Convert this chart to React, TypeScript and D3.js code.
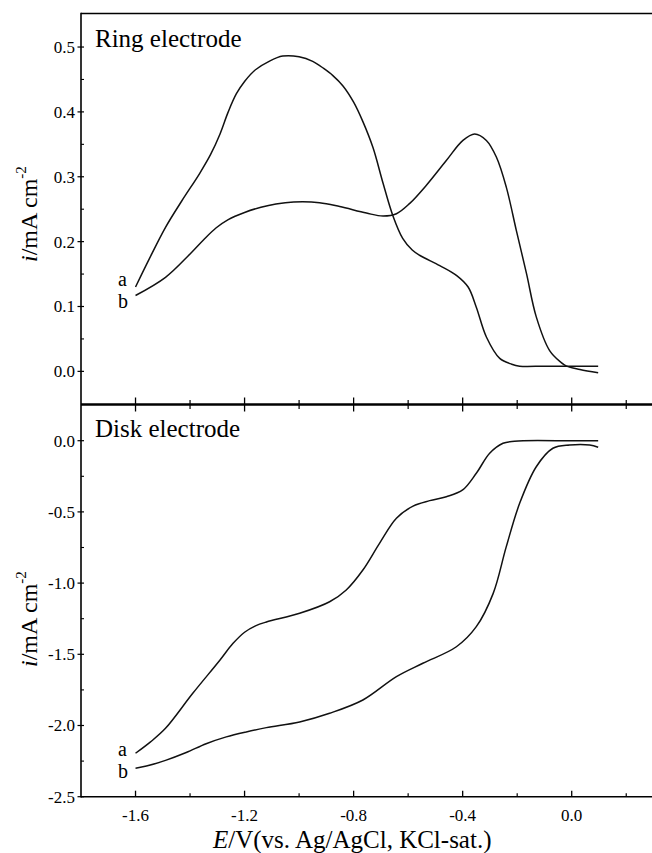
import React, { useEffect, useRef } from 'react';
import * as d3 from 'd3';

// Ring electrode, curve a
const ringPotA = [-1.6, -1.55, -1.49, -1.43, -1.365, -1.325, -1.29, -1.26, -1.23, -1.2, -1.16, -1.11, -1.06, -1.0, -0.95, -0.91, -0.876, -0.839, -0.8, -0.766, -0.729, -0.692, -0.656, -0.62, -0.585, -0.558, -0.484, -0.423, -0.38, -0.35, -0.313, -0.264, -0.22, -0.191, -0.1, 0.0, 0.097];
const ringCurA = [0.13, 0.173, 0.222, 0.263, 0.305, 0.334, 0.366, 0.4, 0.428, 0.447, 0.465, 0.478, 0.486, 0.485, 0.478, 0.467, 0.456, 0.44, 0.415, 0.385, 0.345, 0.29, 0.24, 0.205, 0.187, 0.179, 0.163, 0.148, 0.13, 0.099, 0.053, 0.02, 0.011, 0.008, 0.008, 0.008, 0.008];

// Ring electrode, curve b
const ringPotB = [-1.6, -1.49, -1.4, -1.35, -1.305, -1.26, -1.2, -1.14, -1.085, -1.02, -0.925, -0.851, -0.753, -0.692, -0.643, -0.594, -0.533, -0.46, -0.399, -0.356, -0.313, -0.276, -0.24, -0.203, -0.166, -0.13, -0.081, -0.04, -0.019, 0.03, 0.097];
const ringCurB = [0.117, 0.145, 0.181, 0.203, 0.221, 0.234, 0.245, 0.253, 0.258, 0.261, 0.26, 0.254, 0.244, 0.2395, 0.243, 0.259, 0.287, 0.325, 0.356, 0.366, 0.356, 0.33, 0.284, 0.217, 0.151, 0.084, 0.032, 0.014, 0.008, 0.003, -0.002];

// Disk electrode, curve a
const diskPotA = [-1.6, -1.545, -1.49, -1.39, -1.29, -1.243, -1.2, -1.16, -1.12, -0.998, -0.888, -0.827, -0.766, -0.705, -0.643, -0.582, -0.521, -0.46, -0.4, -0.35, -0.301, -0.252, -0.21, -0.178, 0.0, 0.097];
const diskCurA = [-2.195, -2.115, -2.02, -1.774, -1.54, -1.425, -1.345, -1.3, -1.273, -1.212, -1.131, -1.048, -0.908, -0.721, -0.545, -0.459, -0.421, -0.393, -0.346, -0.229, -0.088, -0.018, -0.004, 0.0, 0.0, 0.0];

// Disk electrode, curve b
const diskPotB = [-1.6, -1.56, -1.49, -1.414, -1.341, -1.267, -1.194, -1.12, -0.998, -0.888, -0.766, -0.643, -0.546, -0.423, -0.35, -0.288, -0.24, -0.191, -0.13, -0.069, -0.008, 0.066, 0.097];
const diskCurB = [-2.3, -2.285, -2.245, -2.19, -2.128, -2.08, -2.045, -2.015, -1.975, -1.914, -1.821, -1.657, -1.563, -1.447, -1.306, -1.072, -0.744, -0.44, -0.183, -0.053, -0.03, -0.03, -0.046];

const xMajor = [-1.6, -1.2, -0.8, -0.4, 0.0];
const xMinor = [-1.4, -1.0, -0.6, -0.2, 0.2];
const ringMajor = [0.0, 0.1, 0.2, 0.3, 0.4, 0.5];
const ringMinor = [0.05, 0.15, 0.25, 0.35, 0.45];
const diskMajor = [-2.5, -2.0, -1.5, -1.0, -0.5, 0.0];
const diskMinor = [-2.25, -1.75, -1.25, -0.75, -0.25];

const FONT = 'Liberation Serif, Times New Roman, Times, DejaVu Serif, serif';

const fmt = (v: number) => (Math.abs(v) < 1e-9 ? '0.0' : v.toFixed(1));

export default function App() {
  const svgRef = useRef<SVGSVGElement>(null);

  useEffect(() => {
    const svg = d3.select(svgRef.current);
    svg.selectAll('*').remove();

    const left = 81;
    const xScale = d3.scaleLinear().domain([-1.8, 0.3]).range([left, 653.5]);
    const yRing = d3.scaleLinear().domain([-0.05, 0.55]).range([403.8, 14.6]);
    const yDisk = d3.scaleLinear().domain([-2.5, 0.25]).range([796.7, 405.1]);

    const midY = 404.5;
    const topY = 13.5;
    const botY = 796.7;

    const g = svg.append('g').attr('font-family', FONT);

    // Рамка
    g.append('line').attr('x1', left).attr('x2', 652).attr('y1', topY).attr('y2', topY)
      .attr('stroke', '#000').attr('stroke-width', 1.5);
    g.append('line').attr('x1', left).attr('x2', 652).attr('y1', midY).attr('y2', midY)
      .attr('stroke', '#000').attr('stroke-width', 2.6);
    g.append('line').attr('x1', left).attr('x2', 652).attr('y1', botY).attr('y2', botY)
      .attr('stroke', '#000').attr('stroke-width', 1.6);
    g.append('line').attr('x1', left).attr('x2', left).attr('y1', topY - 0.75).attr('y2', botY + 0.8)
      .attr('stroke', '#000').attr('stroke-width', 1.6);

    // X ticks: crossing on the middle line, inward on the bottom line
    xMajor.forEach(v => {
      const x = xScale(v);
      g.append('line').attr('x1', x).attr('x2', x).attr('y1', midY - 7).attr('y2', midY + 7)
        .attr('stroke', '#000').attr('stroke-width', 1.3);
      g.append('line').attr('x1', x).attr('x2', x).attr('y1', botY - 6).attr('y2', botY)
        .attr('stroke', '#000').attr('stroke-width', 1.3);
      g.append('text').attr('x', x).attr('y', 821).attr('text-anchor', 'middle')
        .attr('font-size', 17).text(fmt(v));
    });
    xMinor.forEach(v => {
      const x = xScale(v);
      g.append('line').attr('x1', x).attr('x2', x).attr('y1', midY - 4.5).attr('y2', midY + 4.5)
        .attr('stroke', '#000').attr('stroke-width', 1.2);
      g.append('line').attr('x1', x).attr('x2', x).attr('y1', botY - 3.5).attr('y2', botY)
        .attr('stroke', '#000').attr('stroke-width', 1.2);
    });

    // Y ticks
    const yTicks = (scale: d3.ScaleLinear<number, number>, major: number[], minor: number[]) => {
      major.forEach(v => {
        const y = scale(v);
        g.append('line').attr('x1', left - 3.5).attr('x2', left + 3).attr('y1', y).attr('y2', y)
          .attr('stroke', '#000').attr('stroke-width', 1.2);
        g.append('text').attr('x', 75).attr('y', y).attr('dy', '0.35em').attr('text-anchor', 'end')
          .attr('font-size', 17).text(fmt(v));
      });
      minor.forEach(v => {
        const y = scale(v);
        g.append('line').attr('x1', left).attr('x2', left + 3).attr('y1', y).attr('y2', y)
          .attr('stroke', '#000').attr('stroke-width', 1.1);
      });
    };
    yTicks(yRing, ringMajor, ringMinor);
    yTicks(yDisk, diskMajor, diskMinor);

    // Кривые
    const drawCurve = (pot: number[], cur: number[], scale: d3.ScaleLinear<number, number>) => {
      const pts = pot.map((p, i) => [p, cur[i]] as [number, number]);
      const line = d3.line<[number, number]>()
        .x(d => xScale(d[0]))
        .y(d => scale(d[1]))
        .curve(d3.curveCatmullRom.alpha(0.5));
      g.append('path').datum(pts).attr('d', line).attr('fill', 'none')
        .attr('stroke', '#111').attr('stroke-width', 1.5);
    };
    drawCurve(ringPotA, ringCurA, yRing);
    drawCurve(ringPotB, ringCurB, yRing);
    drawCurve(diskPotA, diskCurA, yDisk);
    drawCurve(diskPotB, diskCurB, yDisk);

    // Panel titles
    g.append('text').attr('x', 95).attr('y', 46.5).attr('font-size', 25).text('Ring electrode');
    g.append('text').attr('x', 95).attr('y', 437).attr('font-size', 25).text('Disk electrode');

    // Curve labels
    const label = (t: string, x: number, y: number) =>
      g.append('text').attr('x', x).attr('y', y).attr('font-size', 20).text(t);
    label('a', 118, 285.5);
    label('b', 118, 307.5);
    label('a', 118, 755.5);
    label('b', 118, 777.5);

    // Подписи осей
    const xt = g.append('text').attr('x', 213).attr('y', 848).attr('font-size', 25);
    xt.append('tspan').attr('font-style', 'italic').text('E');
    xt.append('tspan').text('/V(vs. Ag/AgCl, KCl-sat.)');

    const yTitle = (yStart: number) => {
      const t = g.append('text').attr('transform', `translate(37,${yStart}) rotate(-90)`)
        .attr('font-size', 24);
      t.append('tspan').attr('font-style', 'italic').text('i');
      t.append('tspan').text('/mA cm');
      t.append('tspan').attr('dy', -11).attr('font-size', 15).text('-2');
    };
    yTitle(262);
    yTitle(667);
  }, []);

  return (
    <svg
      ref={svgRef}
      width={652}
      height={853}
      style={{ position: 'absolute', left: 0, top: 0, background: '#fff' }}
    />
  );
}
